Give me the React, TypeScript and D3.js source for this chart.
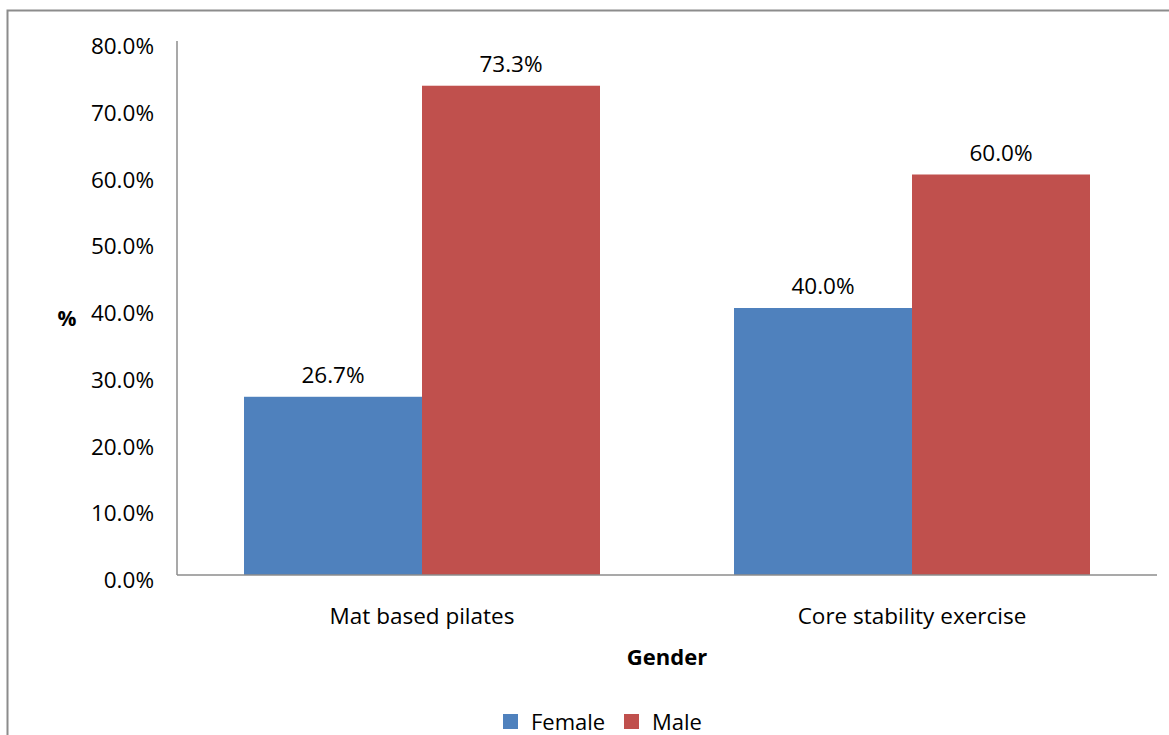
import React from "react";
import * as d3 from "d3";

const categories = ["Mat based pilates", "Core stability exercise"];
const seriesNames = ["Female", "Male"];
const femaleValues = [26.7, 40.0];
const maleValues = [73.3, 60.0];
const yTicks = [0, 10, 20, 30, 40, 50, 60, 70, 80];
const colors = ["#4F81BD", "#C0504D"];

const W = 1169;
const H = 735;
const FONT = "'Open Sans', 'Noto Sans', sans-serif";
const FS = 22.5;

export default function App() {
  const left = 177;
  const right = 1157;
  const top = 41;
  const bottom = 575;

  const x0 = d3.scaleBand<string>().domain(categories).range([left, right]).padding(0);
  const x1 = d3
    .scaleBand<string>()
    .domain(seriesNames)
    .range([67, x0.bandwidth() - 67])
    .padding(0);
  const y = d3.scaleLinear().domain([0, 80]).range([bottom, top]);
  const values = [femaleValues, maleValues];

  return (
    <svg
      width={W}
      height={H}
      style={{ position: "absolute", left: 0, top: 0, background: "#fff" }}
      fontFamily={FONT}
    >
      <rect x={7.5} y={10.5} width={W + 20} height={H + 20} fill="none" stroke="#8c8c8c" strokeWidth={2} />
      {categories.map((c, ci) => (
        <g key={c} transform={`translate(${x0(c)},0)`}>
          {seriesNames.map((s, si) => {
            const v = values[si][ci];
            const bx = x1(s) as number;
            return (
              <g key={s}>
                <rect x={bx} y={y(v)} width={x1.bandwidth()} height={bottom - y(v)} fill={colors[si]} />
                <text
                  x={bx + x1.bandwidth() / 2}
                  y={y(v) - 14}
                  textAnchor="middle"
                  fontSize={FS}
                  fill="#000"
                >
                  {v.toFixed(1) + "%"}
                </text>
              </g>
            );
          })}
        </g>
      ))}
      <line x1={left} x2={left} y1={top} y2={bottom} stroke="#8c8c8c" strokeWidth={1.5} />
      <line x1={left} x2={right} y1={bottom} y2={bottom} stroke="#8c8c8c" strokeWidth={1.5} />
      {yTicks.map((t) => (
        <text key={t} x={154} y={y(t) + 13} textAnchor="end" fontSize={FS} fill="#000">
          {t.toFixed(1) + "%"}
        </text>
      ))}
      {categories.map((c) => (
        <text
          key={c}
          x={(x0(c) as number) + x0.bandwidth() / 2}
          y={624}
          textAnchor="middle"
          fontSize={FS}
          fill="#000"
        >
          {c}
        </text>
      ))}
      <text x={(left + right) / 2} y={665} textAnchor="middle" fontSize={22} fontWeight="bold" fill="#000">
        Gender
      </text>
      <text x={67} y={326} textAnchor="middle" fontSize={21} fontWeight="bold" fill="#000">
        %
      </text>
      {seriesNames.map((s, i) => {
        const lx = i === 0 ? 503 : 624;
        return (
          <g key={s}>
            <rect x={lx} y={714} width={15} height={15} fill={colors[i]} />
            <text x={lx + 28} y={730} fontSize={22} fill="#000">
              {s}
            </text>
          </g>
        );
      })}
    </svg>
  );
}
